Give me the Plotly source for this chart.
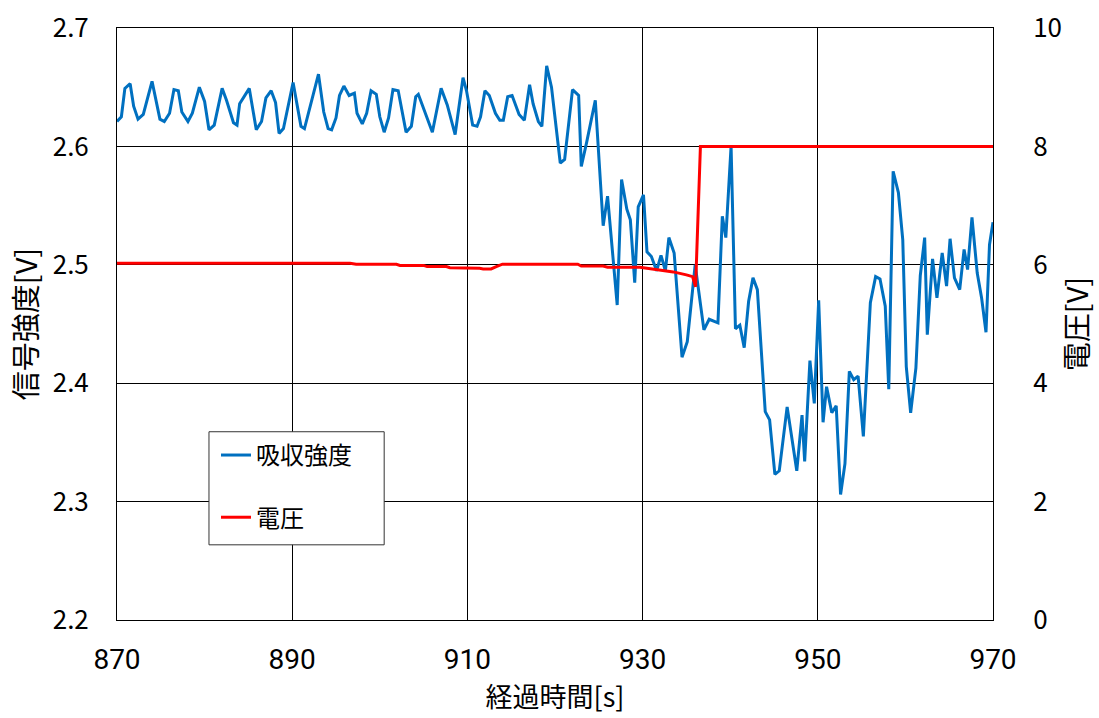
import plotly.graph_objects as go

# 経過時間[s] と 吸収強度 (信号強度[V])
absorb_time = [
    870.0, 870.5, 870.9, 871.5, 871.9, 872.4, 873.0, 874.0, 874.9, 875.4,
    876.0, 876.5, 877.0, 877.4, 878.1, 878.6, 879.4, 880.0, 880.5, 881.1,
    882.0, 882.5, 883.3, 883.7, 884.0, 885.1, 885.9, 886.5, 887.0, 887.6,
    888.1, 888.5, 889.0, 890.1, 891.0, 891.4, 893.0, 893.6, 894.1, 894.5,
    895.0, 895.4, 895.9, 896.5, 897.1, 897.4, 898.0, 898.5, 899.0, 899.6,
    900.0, 900.5, 901.0, 901.5, 902.1, 903.0, 903.6, 904.1, 904.4, 905.4,
    906.0, 907.0, 907.7, 908.6, 909.5, 909.9, 910.6, 911.1, 911.5, 912.0,
    912.5, 913.2, 913.7, 914.1, 914.6, 915.1, 915.9, 916.5, 917.1, 917.5,
    918.1, 918.5, 919.05, 919.6, 920.6, 921.1, 922.0, 922.7, 923.0, 923.6,
    924.6, 925.5, 926.0, 927.1, 927.6, 928.2, 928.6, 929.1, 929.5, 930.1,
    930.5, 931.0, 931.6, 932.1, 932.6, 933.0, 933.6, 934.5, 935.1, 936.0,
    937.0, 937.6, 938.6, 939.1, 939.5, 940.1, 940.6, 941.1, 941.6, 942.1,
    942.6, 943.1, 944.0, 944.5, 945.1, 945.6, 946.5, 947.6, 948.2, 948.5,
    949.1, 949.6, 950.1, 950.6, 951.0, 951.6, 952.1, 952.6, 953.1, 953.6,
    954.1, 954.6, 955.2, 956.0, 956.6, 957.1, 957.7, 958.1, 958.6, 959.2,
    959.7, 960.1, 960.6, 961.2, 961.7, 962.2, 962.5, 963.1, 963.6, 964.2,
    964.7, 965.1, 965.6, 966.2, 966.7, 967.1, 967.6, 968.2, 968.7, 969.2,
    969.6, 970.0,
]
absorb_value = [
    2.621, 2.625, 2.649, 2.653, 2.634, 2.623, 2.627, 2.655, 2.623, 2.621,
    2.628, 2.648, 2.647, 2.629, 2.621, 2.628, 2.650, 2.638, 2.614, 2.618,
    2.649, 2.639, 2.620, 2.618, 2.636, 2.649, 2.614, 2.621, 2.641, 2.647,
    2.637, 2.611, 2.615, 2.654, 2.617, 2.615, 2.661, 2.629, 2.615, 2.614,
    2.624, 2.643, 2.651, 2.643, 2.645, 2.628, 2.619, 2.628, 2.647, 2.644,
    2.625, 2.612, 2.624, 2.648, 2.647, 2.612, 2.617, 2.642, 2.644, 2.625,
    2.612, 2.649, 2.635, 2.610, 2.658, 2.647, 2.618, 2.617, 2.625, 2.647,
    2.643, 2.628, 2.622, 2.622, 2.642, 2.643, 2.627, 2.622, 2.652, 2.636,
    2.621, 2.617, 2.668, 2.650, 2.586, 2.589, 2.648, 2.643, 2.583, 2.603,
    2.639, 2.533, 2.558, 2.466, 2.572, 2.547, 2.538, 2.485, 2.549, 2.559,
    2.511, 2.507, 2.495, 2.508, 2.495, 2.523, 2.510, 2.422, 2.435, 2.500,
    2.445, 2.454, 2.451, 2.541, 2.523, 2.600, 2.446, 2.449, 2.430, 2.469,
    2.489, 2.479, 2.376, 2.369, 2.323, 2.326, 2.380, 2.326, 2.373, 2.334,
    2.419, 2.383, 2.470, 2.367, 2.397, 2.375, 2.381, 2.306, 2.332, 2.410,
    2.403, 2.406, 2.355, 2.468, 2.490, 2.488, 2.465, 2.395, 2.579, 2.561,
    2.521, 2.414, 2.375, 2.413, 2.491, 2.523, 2.441, 2.505, 2.472, 2.510,
    2.482, 2.522, 2.489, 2.479, 2.513, 2.496, 2.540, 2.493, 2.472, 2.443,
    2.517, 2.536,
]

# 経過時間[s] と 電圧[V]
volt_time = [
    870.0, 896.6, 897.3, 901.9, 902.3, 905.0, 905.4, 907.6, 908.0, 909.9,
    910.2, 911.4, 911.8, 912.7, 913.3, 914.0, 922.6, 923.0, 925.5, 926.0,
    929.7, 931.6, 933.5, 935.0, 935.7, 936.05, 936.6, 970.0,
]
volt_value = [
    6.025, 6.025, 6.01, 6.01, 5.99, 5.99, 5.97, 5.97, 5.95, 5.95,
    5.94, 5.94, 5.93, 5.93, 5.97, 6.01, 6.01, 5.98, 5.98, 5.96,
    5.96, 5.92, 5.88, 5.83, 5.80, 5.63, 8.0, 8.0,
]

x_ticks = [870, 890, 910, 930, 950, 970]
left_ticks = [2.2, 2.3, 2.4, 2.5, 2.6, 2.7]
right_ticks = [0, 2, 4, 6, 8, 10]

JP = "Noto Sans CJK JP, Noto Sans, sans-serif"

fig = go.Figure()
fig.add_trace(go.Scatter(
    x=absorb_time, y=absorb_value, mode="lines", name="吸収強度",
    line=dict(color="#0070C0", width=3), legendgroup="a",
))
fig.add_trace(go.Scatter(
    x=volt_time, y=volt_value, mode="lines", name="電圧",
    line=dict(color="#FF0000", width=3), legendgroup="b", yaxis="y2",
))

# white frame behind the legend entries
fig.add_shape(
    type="rect", xref="paper", yref="paper",
    x0=0.105, x1=0.305, y0=0.127, y1=0.318,
    fillcolor="white", line=dict(color="#333333", width=1), layer="above",
)

fig.update_layout(
    width=1099, height=718,
    margin=dict(l=117, r=106, t=28, b=98),
    paper_bgcolor="white", plot_bgcolor="white",
    font=dict(family=JP, size=22, color="black"),
    xaxis=dict(
        range=[870, 970], tickvals=x_ticks, automargin=False,
        tickfont=dict(family="Liberation Sans Narrow, Roboto, " + JP, size=28),
        ticklabelstandoff=14,
        showgrid=True, gridcolor="#000000", gridwidth=1,
        showline=True, linecolor="#000000", linewidth=1, mirror=True,
        zeroline=False, ticks="", ticklen=0,
        title=dict(text="経過時間[s]", font=dict(family=JP, size=27), standoff=4),
    ),
    yaxis=dict(
        range=[2.2, 2.7], tickvals=left_ticks, tickformat=".1f", automargin=False,
        tickfont=dict(size=26), ticklabelstandoff=22,
        showgrid=True, gridcolor="#000000", gridwidth=1,
        showline=True, linecolor="#000000", linewidth=1,
        zeroline=False, ticks="", ticklen=0,
        title=dict(text="信号強度[V]", font=dict(size=29), standoff=6),
    ),
    yaxis2=dict(
        range=[0, 10], tickvals=right_ticks, overlaying="y", side="right",
        automargin=False,
        tickfont=dict(size=26), ticklabelstandoff=34,
        showgrid=False, showline=True, linecolor="#000000", linewidth=1,
        zeroline=False, ticks="", ticklen=0,
        title=dict(text="電圧[V]", font=dict(size=29), standoff=6),
    ),
    legend=dict(
        x=0.113, y=0.316, xanchor="left", yanchor="top",
        bgcolor="rgba(0,0,0,0)", borderwidth=0,
        font=dict(family=JP, size=24),
        traceorder="grouped", tracegroupgap=28,
        itemwidth=30,
    ),
    showlegend=True,
)

fig.write_html("out.html")
